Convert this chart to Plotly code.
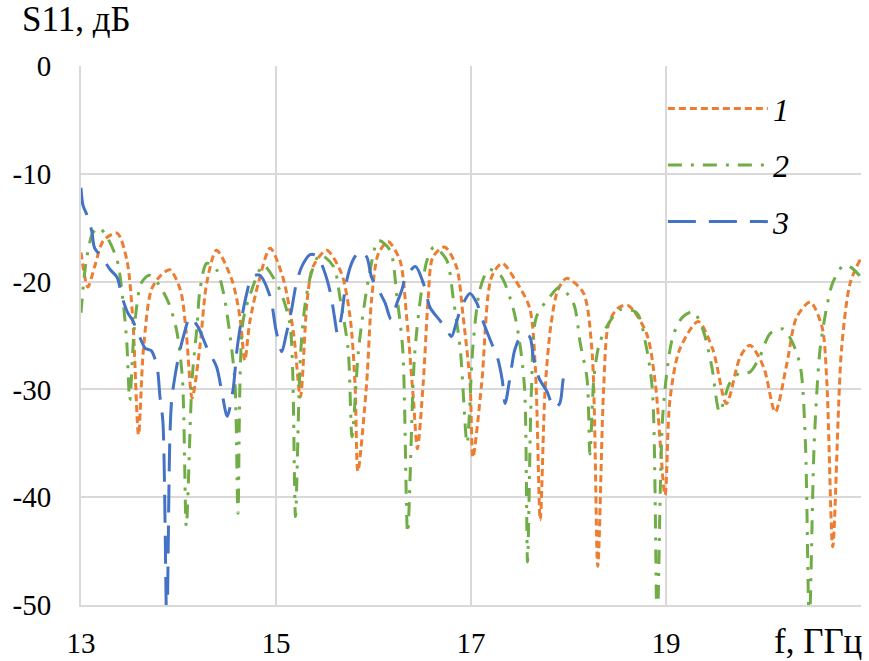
import plotly.graph_objects as go

# ---- data ----
f1 = [13.00, 13.07, 13.14, 13.23, 13.37, 13.47, 13.53, 13.59, 13.64, 13.72, 13.81, 13.91,
      14.02, 14.08, 14.14, 14.22, 14.29, 14.39, 14.55, 14.63, 14.68, 14.73, 14.82, 14.94,
      15.07, 15.18, 15.25, 15.32, 15.38, 15.52, 15.67, 15.76, 15.81, 15.84, 15.93, 15.98,
      16.05, 16.15, 16.27, 16.34, 16.41, 16.45, 16.51, 16.56, 16.61, 16.73, 16.85, 16.92,
      16.99, 17.02, 17.11, 17.21, 17.32, 17.45, 17.60, 17.66, 17.71, 17.76, 17.82, 17.89,
      17.98, 18.15, 18.24, 18.30, 18.36, 18.41, 18.50, 18.61, 18.80, 18.89, 18.99, 19.04,
      19.14, 19.33, 19.48, 19.62, 19.76, 19.86, 20.00, 20.12, 20.24, 20.34, 20.48, 20.60,
      20.65, 20.71, 20.80, 20.89, 21.00]
s1 = [-17.3, -20.5, -18.6, -16.2, -15.5, -18.0, -23.3, -34.2, -26.3, -20.8, -19.5, -18.9,
      -20.8, -24.8, -30.8, -26.0, -20.1, -17.1, -19.9, -23.3, -27.3, -23.8, -20.1, -16.9,
      -19.6, -24.8, -30.7, -21.7, -18.6, -17.1, -19.2, -23.3, -29.4, -37.6, -29.4, -21.7,
      -17.4, -16.3, -18.0, -23.3, -31.0, -35.5, -29.4, -21.7, -17.7, -16.8, -18.6, -23.3,
      -29.4, -36.3, -29.4, -19.6, -18.3, -19.8, -22.4, -28.0, -42.1, -30.0, -24.0, -20.8,
      -19.7, -21.0, -26.3, -46.4, -30.0, -24.0, -22.5, -22.2, -24.8, -29.4, -39.8, -31.0,
      -26.3, -23.7, -26.3, -31.3, -27.0, -25.9, -27.9, -32.1, -27.6, -23.3, -21.9, -24.2,
      -29.4, -44.6, -26.3, -20.1, -17.8]

f2 = [13.00, 13.05, 13.12, 13.18, 13.25, 13.37, 13.43, 13.47, 13.50, 13.55, 13.62, 13.70,
      13.80, 13.90, 13.98, 14.04, 14.08, 14.14, 14.19, 14.22, 14.29, 14.39, 14.46, 14.53,
      14.58, 14.61, 14.66, 14.75, 14.87, 15.04, 15.14, 15.17, 15.20, 15.25, 15.30, 15.36,
      15.45, 15.59, 15.66, 15.74, 15.78, 15.85, 15.96, 16.05, 16.17, 16.24, 16.30, 16.35,
      16.42, 16.49, 16.55, 16.62, 16.75, 16.82, 16.89, 16.96, 17.02, 17.09, 17.18, 17.30,
      17.43, 17.50, 17.55, 17.58, 17.62, 17.67, 17.81, 17.91, 18.05, 18.12, 18.19, 18.22,
      18.26, 18.31, 18.39, 18.53, 18.70, 18.79, 18.86, 18.91, 18.97, 19.07, 19.17, 19.28,
      19.38, 19.47, 19.55, 19.65, 19.75, 19.86, 19.96, 20.07, 20.20, 20.30, 20.38, 20.43,
      20.47, 20.52, 20.58, 20.65, 20.71, 20.82, 20.90, 21.00]
s2 = [-22.9, -18.3, -15.5, -15.0, -15.6, -18.0, -21.7, -25.7, -31.0, -24.0, -20.1, -19.4,
      -20.3, -22.0, -24.5, -29.0, -42.7, -29.0, -24.2, -20.8, -18.3, -18.9, -21.0, -25.1,
      -29.5, -41.5, -23.8, -20.8, -18.5, -20.8, -23.8, -28.0, -41.8, -27.0, -22.0, -19.3,
      -17.5, -18.6, -21.7, -26.3, -34.4, -26.0, -19.2, -16.2, -17.1, -21.4, -26.3, -43.3,
      -27.0, -21.0, -18.0, -16.8, -18.0, -21.7, -26.3, -35.0, -26.0, -20.8, -18.9, -19.4,
      -22.4, -25.7, -30.0, -46.0, -30.0, -23.3, -21.4, -20.5, -22.0, -25.7, -29.0, -36.0,
      -29.0, -26.0, -24.2, -22.6, -22.9, -25.7, -30.0, -52.0, -32.0, -25.1, -23.3, -22.8,
      -24.5, -27.9, -32.1, -29.5, -28.5, -28.4, -27.0, -24.8, -24.4, -25.7, -28.0, -35.0,
      -52.0, -35.0, -26.3, -22.3, -20.1, -18.5, -18.7, -19.6]

f3 = [13.00, 13.02, 13.06, 13.11, 13.14, 13.22, 13.30, 13.37, 13.42, 13.48, 13.53, 13.60,
      13.66, 13.72, 13.78, 13.81, 13.84, 13.88, 13.91, 13.93, 13.96, 14.00, 14.05, 14.12,
      14.20, 14.29, 14.39, 14.44, 14.50, 14.56, 14.60, 14.65, 14.70, 14.75, 14.83, 14.94,
      15.00, 15.06, 15.10, 15.16, 15.21, 15.27, 15.35, 15.42, 15.49, 15.56, 15.60, 15.63,
      15.67, 15.72, 15.79, 15.86, 15.93, 15.98, 16.07, 16.12, 16.18, 16.24, 16.29, 16.33,
      16.43, 16.51, 16.58, 16.68, 16.75, 16.80, 16.85, 16.90, 16.99, 17.06, 17.12, 17.21,
      17.27, 17.32, 17.35, 17.40, 17.45, 17.52, 17.60, 17.64, 17.70, 17.78, 17.85, 17.91,
      17.95, 18.00]
s3 = [-11.3, -12.9, -13.8, -15.3, -16.9, -17.8, -18.9, -19.6, -21.4, -22.9, -23.6, -25.1,
      -26.2, -26.4, -27.9, -30.7, -33.0, -52.0, -35.0, -31.0, -29.0, -27.0, -25.1, -23.3,
      -24.2, -26.1, -27.9, -30.0, -32.5, -30.0, -26.3, -23.3, -21.1, -19.6, -19.4, -21.4,
      -24.5, -26.5, -25.1, -22.6, -20.1, -18.5, -17.5, -17.6, -18.9, -21.1, -23.3, -24.8,
      -23.3, -20.1, -18.0, -17.2, -17.7, -19.6, -21.1, -22.0, -23.5, -22.0, -20.8, -19.6,
      -18.6, -20.1, -22.4, -23.6, -24.5, -25.1, -23.8, -22.4, -21.1, -22.0, -23.6, -25.7,
      -27.0, -29.1, -31.3, -28.9, -26.3, -25.0, -25.1, -27.0, -29.0, -30.2, -31.7, -31.3,
      -28.9, -28.0]

series_names = ["<i>1</i>", "<i>2</i>", "<i>3</i>"]
x_tickvals = [13, 15, 17, 19]
x_ticktext = ["13", "15", "17", "19"]
y_tickvals = [0, -10, -20, -30, -40, -50]
y_ticktext = ["0", "-10", "-20", "-30", "-40", "-50"]

SERIF = "Liberation Serif"

fig = go.Figure()
fig.add_trace(go.Scatter(x=f1, y=s1, mode="lines", name=series_names[0], legendgroup="a",
                         line=dict(color="#ED7D31", width=3, dash="7px,4px", shape="spline", smoothing=0.8)))
fig.add_trace(go.Scatter(x=f2, y=s2, mode="lines", name=series_names[1], legendgroup="b",
                         line=dict(color="#70AD47", width=3, dash="14px,9px,3px,9px", shape="spline", smoothing=0.8)))
fig.add_trace(go.Scatter(x=f3, y=s3, mode="lines", name=series_names[2], legendgroup="c",
                         line=dict(color="#4472C4", width=3, dash="28px,13px", shape="spline", smoothing=0.8)))

fig.update_layout(
    width=869, height=661,
    margin=dict(l=81, r=8, t=66, b=56),
    paper_bgcolor="white", plot_bgcolor="white",
    font=dict(family=SERIF, size=29, color="#000000"),
    showlegend=True,
    legend=dict(x=0.746, y=0.972, xanchor="left", yanchor="top",
                bgcolor="rgba(0,0,0,0)", font=dict(family=SERIF, size=32, color="#000000"),
                itemwidth=100, tracegroupgap=12, traceorder="grouped"),
    xaxis=dict(range=[13, 21], tickvals=x_tickvals, ticktext=x_ticktext,
               showgrid=False, zeroline=False, showline=True, linecolor="#d9d9d9", linewidth=2,
               ticks="", ticklabelstandoff=11, automargin=False,
               tickfont=dict(family=SERIF, size=29, color="#000000")),
    yaxis=dict(range=[-50, 0], tickvals=y_tickvals, ticktext=y_ticktext,
               showgrid=True, gridcolor="#d9d9d9", gridwidth=2, zeroline=False,
               showline=True, linecolor="#d9d9d9", linewidth=2,
               ticks="", ticklabelstandoff=22, automargin=False,
               tickfont=dict(family=SERIF, size=29, color="#000000")),
    annotations=[
        dict(text="S11, дБ", xref="paper", yref="paper", x=-0.078, y=1.087,
             xanchor="left", yanchor="middle", showarrow=False,
             font=dict(family=SERIF, size=35, color="#000000")),
        dict(text="f, ГГц", xref="paper", yref="paper", x=1.004, y=-0.067,
             xanchor="right", yanchor="middle", showarrow=False,
             font=dict(family=SERIF, size=35, color="#000000")),
    ],
)
# vertical grid lines every 2 GHz (as in reference)
fig.update_xaxes(minor=dict(tickvals=[15, 17, 19, 21], showgrid=True, gridcolor="#d9d9d9", gridwidth=2))

fig.write_html("out.html")
